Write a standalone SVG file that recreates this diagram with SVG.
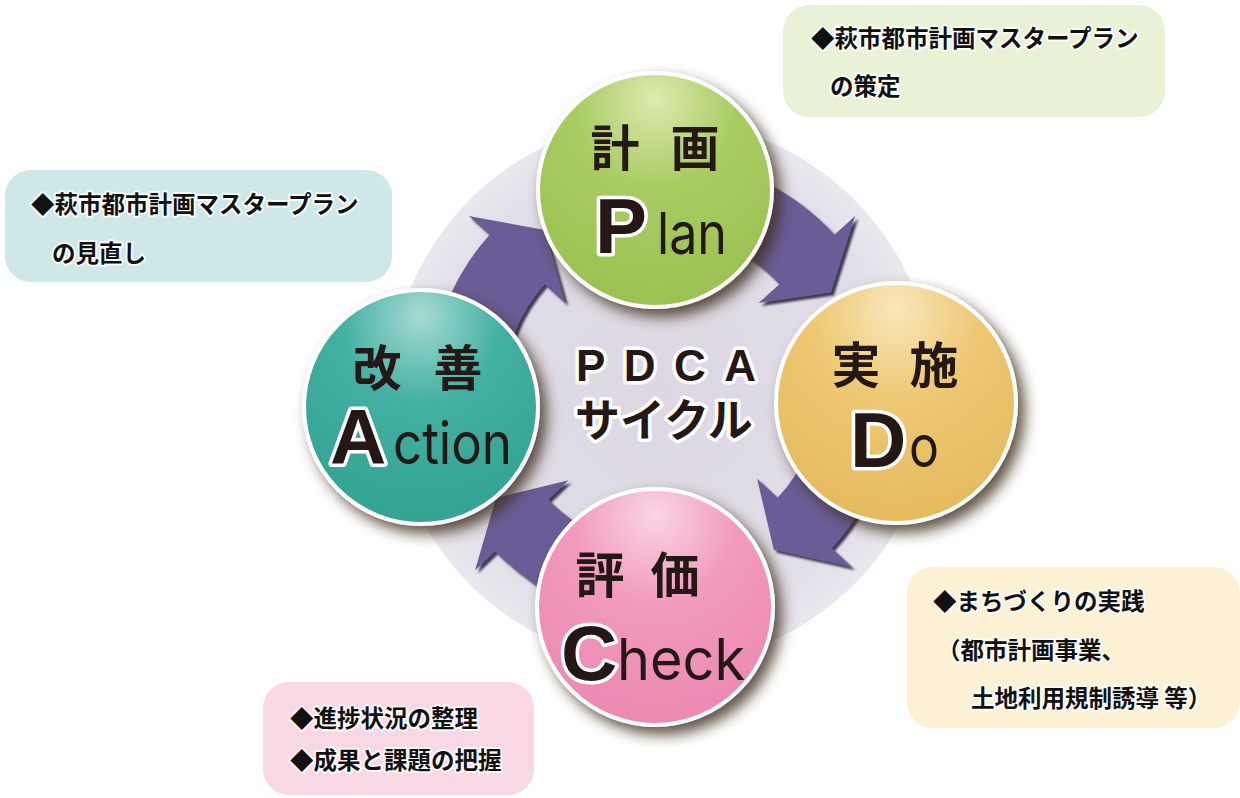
<svg xmlns="http://www.w3.org/2000/svg" width="1240" height="798" viewBox="0 0 1240 798">
<defs>
<style>
.jp{font-family:"Noto Sans CJK JP","Noto Sans CJK SC",sans-serif;font-weight:700;fill:#231815}
.ttl{font-size:49px}
.big{font-family:"Liberation Sans",Arial,sans-serif;font-weight:700;font-size:78px;fill:#231815;stroke:#fff;stroke-width:7px;paint-order:stroke;stroke-linejoin:round}
.sm{font-family:Inter,"DejaVu Sans",sans-serif;font-weight:400;font-size:58px;fill:#231815}
.note{font-family:"Noto Sans CJK JP","Noto Sans CJK SC",sans-serif;font-weight:700;font-size:23.5px;fill:#111;stroke:#fff;stroke-width:4px;stroke-opacity:0.85;paint-order:stroke;stroke-linejoin:round}
.halo{stroke:#fff;stroke-width:7px;paint-order:stroke;stroke-linejoin:round}
.arrow{fill:#6b5d97;filter:url(#ash)}
.ring{stroke:#fff;stroke-width:4px;filter:url(#csh)}
</style>
<filter id="csh" x="-30%" y="-30%" width="170%" height="170%">
<feDropShadow dx="7" dy="8" stdDeviation="7" flood-color="#3b2a1e" flood-opacity="0.8"/>
</filter>
<filter id="ash" x="-20%" y="-20%" width="140%" height="140%">
<feDropShadow dx="3" dy="3" stdDeviation="1" flood-color="#2e2640" flood-opacity="0.9"/>
</filter>
<radialGradient id="disc" cx="0.5" cy="0.5" r="0.5">
<stop offset="0" stop-color="#dcd7e2"/>
<stop offset="0.85" stop-color="#e2dfe8"/>
<stop offset="1" stop-color="#eae8ef"/>
</radialGradient>
<radialGradient id="gPlan" cx="0.5" cy="0.2" r="0.75" fx="0.5" fy="0.1">
<stop offset="0" stop-color="#dcebb0"/>
<stop offset="0.45" stop-color="#aacc63"/>
<stop offset="1" stop-color="#9cc253"/>
</radialGradient>
<radialGradient id="gDo" cx="0.5" cy="0.2" r="0.75" fx="0.5" fy="0.1">
<stop offset="0" stop-color="#f8e7bb"/>
<stop offset="0.45" stop-color="#eec874"/>
<stop offset="1" stop-color="#e6bb60"/>
</radialGradient>
<radialGradient id="gCheck" cx="0.5" cy="0.2" r="0.75" fx="0.5" fy="0.1">
<stop offset="0" stop-color="#fad5e5"/>
<stop offset="0.45" stop-color="#f29bbf"/>
<stop offset="1" stop-color="#ec8ab2"/>
</radialGradient>
<radialGradient id="gAction" cx="0.5" cy="0.2" r="0.75" fx="0.5" fy="0.1">
<stop offset="0" stop-color="#a8dbd3"/>
<stop offset="0.45" stop-color="#43b0a2"/>
<stop offset="1" stop-color="#34a494"/>
</radialGradient>
</defs>

<rect width="1240" height="798" fill="#fff"/>
<circle id="cycle-disc" cx="662" cy="392" r="272" fill="url(#disc)"/>

<g id="connectors">
<path id="arrow-plan-do" class="arrow" d="M682.2,158.9 A232,232 0 0 1 834.4,234.8 L855.2,216 L830.9,292.5 L758.6,303 L779.4,284.3 A158,158 0 0 0 675.8,232.6 Z"/>
<path id="arrow-do-check" class="arrow" d="M894,390 A232,232 0 0 1 831.7,548.2 L852.2,567.3 L773.8,549.7 L757.1,478.7 L777.6,497.8 A158,158 0 0 0 820,390 Z"/>
<path id="arrow-check-action" class="arrow" d="M653.9,621.9 A232,232 0 0 1 495.1,551.2 L475,570.6 L496,498 L568.5,480.3 L548.3,499.8 A158,158 0 0 0 656.5,547.9 Z"/>
<path id="arrow-action-plan" class="arrow" d="M430,390 A232,232 0 0 1 489.6,234.8 L468.8,216 L545,230 L565.4,303 L544.6,284.3 A158,158 0 0 0 504,390 Z"/>
</g>

<g id="node-plan">
<circle class="ring" cx="655" cy="190" r="117" fill="url(#gPlan)"/>
<text class="jp ttl" x="615" y="166" text-anchor="middle">計</text>
<text class="jp ttl" x="695" y="166" text-anchor="middle">画</text>
<text class="big" x="595" y="253">P</text>
<text class="sm" x="657" y="254" textLength="70" lengthAdjust="spacingAndGlyphs">lan</text>
</g>

<g id="node-do">
<circle class="ring" cx="896" cy="403" r="120" fill="url(#gDo)"/>
<text class="jp ttl" x="856" y="383" text-anchor="middle">実</text>
<text class="jp ttl" x="934" y="383" text-anchor="middle">施</text>
<text class="big" x="850" y="467">D</text>
<text class="sm" x="909" y="467" textLength="30" lengthAdjust="spacingAndGlyphs">o</text>
</g>

<g id="node-check">
<circle class="ring" cx="655" cy="607" r="118" fill="url(#gCheck)"/>
<text class="jp ttl" x="600" y="593" text-anchor="middle">評</text>
<text class="jp ttl" x="675" y="593" text-anchor="middle">価</text>
<text class="big" x="561" y="680">C</text>
<text class="sm" x="617" y="680" textLength="128" lengthAdjust="spacingAndGlyphs">heck</text>
</g>

<g id="node-action">
<circle class="ring" cx="421" cy="407" r="117" fill="url(#gAction)"/>
<text class="jp ttl" x="377" y="386" text-anchor="middle">改</text>
<text class="jp ttl" x="458" y="386" text-anchor="middle">善</text>
<text class="big" x="330" y="464">A</text>
<text class="sm" x="393" y="464" textLength="119" lengthAdjust="spacingAndGlyphs">ction</text>
</g>

<g id="center-label">
<text class="halo" x="576" y="381" font-family="'Liberation Sans',Arial,sans-serif" font-weight="700" font-size="44" fill="#231815" textLength="180" lengthAdjust="spacing">PDCA</text>
<text class="jp halo" x="664" y="437" font-size="45" text-anchor="middle">サイクル</text>
</g>

<g id="note-plan">
<rect x="783" y="5" width="382" height="112" rx="26" fill="#e9f1d6"/>
<text class="note" x="811" y="47">◆萩市都市計画マスタープラン</text>
<text class="note" x="830" y="95">の策定</text>
</g>

<g id="note-action">
<rect x="5" y="170" width="387" height="112" rx="26" fill="#cde8e6"/>
<text class="note" x="31" y="213">◆萩市都市計画マスタープラン</text>
<text class="note" x="52" y="262">の見直し</text>
</g>

<g id="note-do">
<rect x="907" y="567" width="333" height="161" rx="26" fill="#fcf1d5"/>
<text class="note" x="933" y="610">◆まちづくりの実践</text>
<text class="note" x="937" y="659">（都市計画事業、</text>
<text class="note" x="971" y="707">土地利用規制誘導 等）</text>
</g>

<g id="note-check">
<rect x="263" y="682" width="271" height="113" rx="26" fill="#f8d8e5"/>
<text class="note" x="290" y="727">◆進捗状況の整理</text>
<text class="note" x="290" y="769">◆成果と課題の把握</text>
</g>
</svg>
